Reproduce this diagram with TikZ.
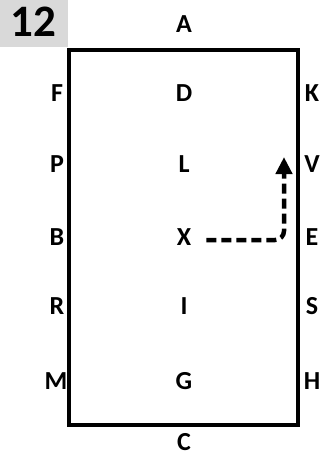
\documentclass[tikz,border=0pt]{standalone}
\usepackage{fontspec}
\setmainfont{Carlito}
\usepackage{xcolor}
\usepackage{tikz}
\usetikzlibrary{
arrows.meta,
positioning
}
\definecolor{tag}{HTML}{D9D9D9}
\tikzset{
letter/.style={
font=\fontsize{26}{30}\selectfont\bfseries,
inner sep=0pt
},
route/.style={
line width=4.5pt,
dash pattern=on 10pt off 5pt,
-{Triangle[length=17pt,width=16pt]}
}
}

\begin{document}
\begin{tikzpicture}[x=1pt,y=-1pt]

\useasboundingbox (0,0) rectangle (322,461);

% number tag
\fill[tag] (0,0) rectangle (68,47);
\node[
letter,
font=\fontsize{45}{50}\selectfont\bfseries
]
(num) at (33,22)
{
12
};

% arena
\draw[line width=4.5pt] (69,50) rectangle (298,425);

\node[letter] (A) at (184,24) {A};
\node[letter] (C) at (184,442) {C};

% left side
\node[letter] (F) at (57,93) {F};
\node[letter] (P) at (57,164) {P};
\node[letter] (B) at (57,237) {B};
\node[letter] (R) at (57,306) {R};
\node[letter] (M) at (56,381) {M};

% centre line
\node[letter] (D) at (184,93) {D};
\node[letter] (L) at (184,164) {L};
\node[letter] (X) at (184,237) {X};
\node[letter] (I) at (184,306) {I};
\node[letter] (G) at (184,381) {G};

% right side
\node[letter] (K) at (312,93) {K};
\node[letter] (V) at (312,164) {V};
\node[letter] (E) at (312,237) {E};
\node[letter] (S) at (312,306) {S};
\node[letter] (H) at (312,381) {H};

% turn at E, go towards V
\coordinate (tip) at (284,157);
\draw[route, rounded corners=9pt]
([xshift=15pt,yshift=-3pt]X.east) -| (tip);

\end{tikzpicture}
\end{document}
